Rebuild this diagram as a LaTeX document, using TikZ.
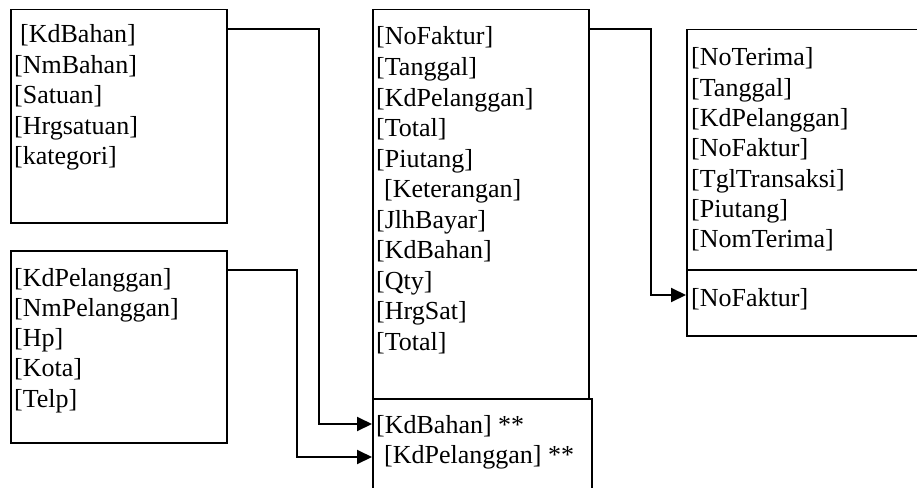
\documentclass[tikz,border=0pt]{standalone}
\usepackage{fontspec}
\setmainfont{Liberation Serif}
\usetikzlibrary{arrows.meta}
\begin{document}
\begin{tikzpicture}[x=1pt,y=-1pt,
  tbl/.style={draw=black, line width=1.5pt, inner sep=0pt, anchor=north west},
  fld/.style={inner sep=0pt, anchor=base west, font=\fontsize{26pt}{30pt}\selectfont},
  arr/.style={line width=2pt, -{Triangle[length=15pt,width=14pt]}}]
\useasboundingbox (0,0) rectangle (917,487);
\clip (0,0) rectangle (917,487);
% tables
\node[tbl, minimum width=216pt, minimum height=213pt] (bahan) at (10,9) {};
\node[tbl, minimum width=216pt, minimum height=192pt] (pelanggan) at (10,250) {};
\node[tbl, minimum width=216pt, minimum height=389pt] (faktur) at (372,9) {};
\node[tbl, minimum width=219pt, minimum height=110pt] (detail) at (372,398) {};
\node[tbl, minimum width=240pt, minimum height=240pt] (terima) at (686,29) {};
\node[tbl, minimum width=240pt, minimum height=66pt] (terimadet) at (686,269) {};
% fields
\node[fld] (b1-0) at (20,43) {[KdBahan]};
\foreach \t [count=\i] in {{[NmBahan]},{[Satuan]},{[Hrgsatuan]},{[kategori]}}
  \node[fld] (b1-\i) at (14, 43+30.4*\i) {\t};
\foreach \t [count=\i from 0] in {{[KdPelanggan]},{[NmPelanggan]},{[Hp]},{[Kota]},{[Telp]}}
  \node[fld] (b2-\i) at (14, 286+30.3*\i) {\t};
\foreach \t [count=\i from 0] in {{[NoFaktur]},{[Tanggal]},{[KdPelanggan]},{[Total]},{[Piutang]}}
  \node[fld] (b3-\i) at (376, 45+30.5*\i) {\t};
\node[fld] (b3-5) at (384, 45+30.5*5) {[Keterangan]};
\foreach \t [count=\i from 6] in {{[JlhBayar]},{[KdBahan]},{[Qty]},{[HrgSat]},{[Total]}}
  \node[fld] (b3-\i) at (376, 45+30.5*\i) {\t};
\node[fld] (d-0) at (376,433) {[KdBahan] **};
\node[fld] (d-1) at (384,463) {[KdPelanggan] **};
\foreach \t [count=\i from 0] in {{[NoTerima]},{[Tanggal]},{[KdPelanggan]},{[NoFaktur]},{[TglTransaksi]},{[Piutang]},{[NomTerima]}}
  \node[fld] (b4-\i) at (691, 66+30.3*\i) {\t};
\node[fld] (t-0) at (691,306) {[NoFaktur]};
% connectors
\coordinate (k1) at (319,29);
\coordinate (k2) at (297,270);
\coordinate (k3) at (651,29);
\draw[arr] (bahan.east |- k1) -- (k1) -- (k1 |- 0,424) -- (detail.west |- 0,424);
\draw[arr] (pelanggan.east |- k2) -- (k2) -- (k2 |- 0,457) -- (detail.west |- 0,457);
\draw[arr] (faktur.east |- k3) -- (k3) -- (k3 |- 0,295) -- (terimadet.west |- 0,295);
\end{tikzpicture}
\end{document}
